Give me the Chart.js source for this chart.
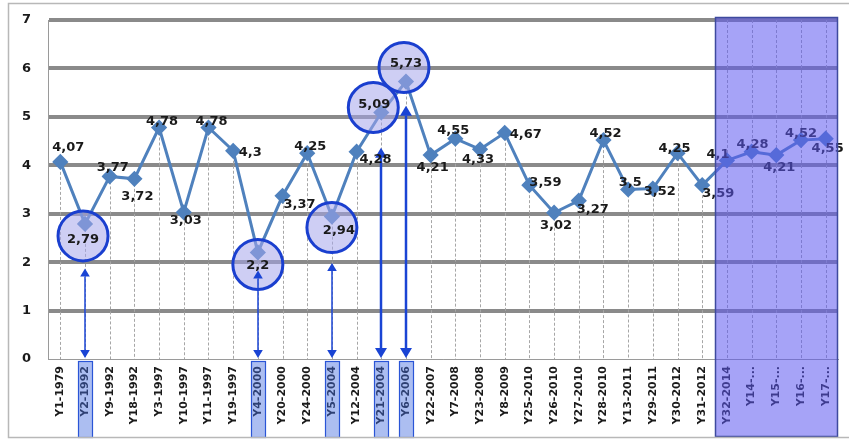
<!DOCTYPE html>
<html>
<head>
<meta charset="utf-8">
<script src="https://cdn.jsdelivr.net/npm/chart.js@4.4.0/dist/chart.umd.min.js"></script>
<style>
  html, body { margin: 0; padding: 0; background: #fff; }
</style>
</head>
<body>
<canvas id="chart" width="849" height="441"></canvas>
<script>
// categories and values
const labels = [
  "Y1-1979", "Y2-1992", "Y9-1992", "Y18-1992", "Y3-1997", "Y10-1997", "Y11-1997", "Y19-1997",
  "Y4-2000", "Y20-2000", "Y24-2000", "Y5-2004", "Y12-2004", "Y21-2004", "Y6-2006", "Y22-2007",
  "Y7-2008", "Y23-2008", "Y8-2009", "Y25-2010", "Y26-2010", "Y27-2010", "Y28-2010", "Y13-2011",
  "Y29-2011", "Y30-2012", "Y31-2012", "Y32-2014", "Y14-...", "Y15-...", "Y16-...", "Y17-..."
];
const values = [
  4.07, 2.79, 3.77, 3.72, 4.78, 3.03, 4.78, 4.3,
  2.2, 3.37, 4.25, 2.94, 4.28, 5.09, 5.73, 4.21,
  4.55, 4.33, 4.67, 3.59, 3.02, 3.27, 4.52, 3.5,
  3.52, 4.25, 3.59, 4.1, 4.28, 4.21, 4.52, 4.55
];
const yMin = 0;
const yMax = 7;

// annotations
const highlighted = [1, 8, 11, 13, 14];
const arrowTop = [1.87, 1.83, 1.98, 4.36, 5.23]; // value where upper arrow head sits
const shadedFrom = 27; // first category of the shaded block

// label placement (px offsets from the marker), not data
const labelOffsets = [
  [8, -14], [-2, 16], [3, -9], [3, 18], [3, -6], [2, 8], [3, -6], [17, 2],
  [0, 13], [17, 9], [3, -7], [7, 14], [19, 8], [-7, -8], [0, -18], [2, 13],
  [-2, -8], [-2, 10], [21, 2], [16, -3], [2, 13], [14, 9], [2, -6], [2, -7],
  [7, 3], [-3, -5], [16, 8], [-9, -6], [1, -7], [3, 13], [0, -6], [2, 10]
];
const circleOffsets = [[-2, 12], [0, 12], [0, 11], [-8, -5], [-2, -14]];

const fmt = v => String(v).replace(".", ",");
const FONT = '"DejaVu Sans", Verdana, sans-serif';

const arrow = (ctx, x, yTop, yBottom, width, head) => {
  ctx.save();
  ctx.strokeStyle = "#1a44d4";
  ctx.fillStyle = "#1a44d4";
  ctx.lineWidth = width;
  ctx.beginPath();
  ctx.moveTo(x, yTop + head);
  ctx.lineTo(x, yBottom - head);
  ctx.stroke();
  ctx.beginPath();
  ctx.moveTo(x, yTop);
  ctx.lineTo(x - head * 0.6, yTop + head);
  ctx.lineTo(x + head * 0.6, yTop + head);
  ctx.closePath();
  ctx.fill();
  ctx.beginPath();
  ctx.moveTo(x, yBottom);
  ctx.lineTo(x - head * 0.6, yBottom - head);
  ctx.lineTo(x + head * 0.6, yBottom - head);
  ctx.closePath();
  ctx.fill();
  ctx.restore();
};

const decorations = {
  id: "decorations",
  beforeDatasetsDraw(chart) {
    const { ctx, chartArea } = chart;
    const pts = chart.getDatasetMeta(0).data;
    // drop lines
    ctx.save();
    ctx.strokeStyle = "#a6a6a6";
    ctx.lineWidth = 1;
    ctx.setLineDash([3, 2]);
    pts.forEach((p, i) => {
      const x = Math.round(p.x) + 0.5;
      ctx.beginPath();
      ctx.moveTo(x, i >= shadedFrom ? chartArea.top : p.y);
      ctx.lineTo(x, chartArea.bottom);
      ctx.stroke();
    });
    ctx.restore();
  },
  afterDatasetsDraw(chart) {
    const { ctx, chartArea } = chart;
    const y = chart.scales.y;
    const pts = chart.getDatasetMeta(0).data;

    // highlight circles
    highlighted.forEach((idx, k) => {
      const p = pts[idx];
      ctx.save();
      ctx.beginPath();
      ctx.arc(p.x + circleOffsets[k][0], p.y + circleOffsets[k][1], 25, 0, Math.PI * 2);
      ctx.fillStyle = "rgba(165, 165, 235, 0.55)";
      ctx.fill();
      ctx.lineWidth = 3;
      ctx.strokeStyle = "#1a3fcf";
      ctx.stroke();
      ctx.restore();
    });

    // arrows down to the axis
    highlighted.forEach((idx, k) => {
      const p = pts[idx];
      const big = idx === 13 || idx === 14;
      arrow(ctx, Math.round(p.x), y.getPixelForValue(arrowTop[k]), chartArea.bottom - 1,
        big ? 2.5 : 1.5, big ? 10 : 8);
    });

    // value labels
    ctx.save();
    ctx.font = "bold 13px " + FONT;
    ctx.fillStyle = "#1a1a1a";
    ctx.textAlign = "center";
    ctx.textBaseline = "middle";
    pts.forEach((p, i) => {
      ctx.fillText(fmt(values[i]), p.x + labelOffsets[i][0], p.y + labelOffsets[i][1]);
    });
    ctx.restore();
  },
  afterDraw(chart) {
    const { ctx, chartArea } = chart;
    const x = chart.scales.x;
    const step = x.getPixelForValue(1) - x.getPixelForValue(0);

    // shaded block
    const left = Math.round(x.getPixelForValue(shadedFrom) - step / 2);
    ctx.save();
    ctx.fillStyle = "rgba(92, 88, 240, 0.55)";
    ctx.fillRect(left, 17, chartArea.right - left, 420);
    ctx.strokeStyle = "#3e4a9e";
    ctx.lineWidth = 1.5;
    ctx.strokeRect(left + 0.5, 17.5, chartArea.right - left - 1, 419);
    ctx.restore();

    // boxes round the highlighted category labels
    ctx.save();
    highlighted.forEach(idx => {
      const px = Math.round(x.getPixelForValue(idx));
      ctx.fillStyle = "rgba(70, 110, 225, 0.45)";
      ctx.fillRect(px - 7, chartArea.bottom + 2, 15, 77);
      ctx.strokeStyle = "#2a55d6";
      ctx.lineWidth = 1.2;
      ctx.strokeRect(px - 6.5, chartArea.bottom + 2.5, 14, 76);
    });
    ctx.restore();

    // outer frame
    ctx.save();
    ctx.strokeStyle = "#b8b8b8";
    ctx.lineWidth = 1.5;
    ctx.strokeRect(8.5, 3.5, 870, 434);
    ctx.restore();
  }
};

const chart = new Chart(document.getElementById("chart"), {
  type: "line",
  data: {
    labels: labels,
    datasets: [
      {
        data: values,
        borderColor: "#4f81bd",
        backgroundColor: "#4f81bd",
        borderWidth: 3,
        pointStyle: "rectRot",
        pointRadius: 6,
        pointHoverRadius: 6,
        tension: 0,
      },
    ],
  },
  options: {
    responsive: false,
    animation: false,
    devicePixelRatio: 1,
    layout: { padding: { left: 8, right: 11, top: 20, bottom: 0 } },
    plugins: {
      legend: { display: false },
      tooltip: { enabled: false },
    },
    scales: {
      x: {
        offset: true,
        grid: { display: false, drawTicks: false },
        border: { display: true, color: "#9a9a9a", width: 1 },
        ticks: {
          autoSkip: false,
          minRotation: 90,
          maxRotation: 90,
          padding: 7,
          color: "#1a1a1a",
          font: { family: FONT, size: 11, weight: "bold" },
        },
        afterFit: s => {
          s.height = 82;
          s.paddingLeft = 0;
          s.paddingRight = 0;
          s.paddingTop = 0;
          s.paddingBottom = 0;
        },
      },
      y: {
        min: yMin,
        max: yMax,
        ticks: {
          stepSize: 1,
          padding: 17,
          color: "#1a1a1a",
          font: { family: FONT, size: 13, weight: "bold" },
        },
        grid: {
          drawTicks: false,
          color: c => (c.tick.value === 0 ? "#9a9a9a" : "#8a8a8a"),
          lineWidth: c => (c.tick.value === 0 ? 1 : 4),
        },
        border: { display: true, color: "#9a9a9a", width: 1 },
        afterFit: s => {
          s.width = 40;
          s.paddingTop = 0;
          s.paddingBottom = 0;
        },
      },
    },
  },
  plugins: [decorations],
});
</script>
</body>
</html>
